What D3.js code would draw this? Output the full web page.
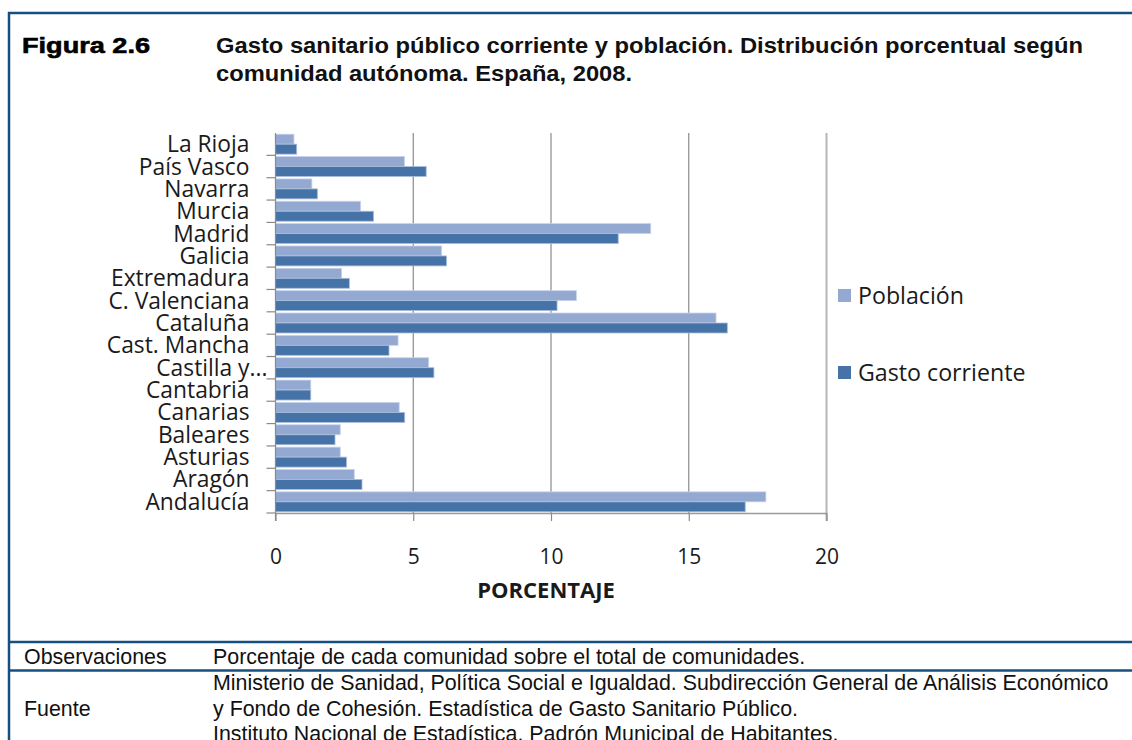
<!DOCTYPE html>
<html>
<head>
<meta charset="utf-8">
<script src="https://cdn.jsdelivr.net/npm/d3@7"></script>
<style>
  html, body { margin: 0; padding: 0; background: #fff; }
  svg { display: block; }
</style>
</head>
<body>
<svg id="fig" width="1132" height="740"></svg>
<script>
// Comunidades autónomas, drawn top to bottom
const comunidades = [
  "La Rioja", "País Vasco", "Navarra", "Murcia", "Madrid", "Galicia",
  "Extremadura", "C. Valenciana", "Cataluña", "Cast. Mancha", "Castilla y...",
  "Cantabria", "Canarias", "Baleares", "Asturias", "Aragón", "Andalucía"
];
// Porcentaje de población de cada comunidad
const poblacion = [
  0.67, 4.68, 1.32, 3.09, 13.62, 6.03,
  2.40, 10.92, 15.99, 4.45, 5.56,
  1.28, 4.49, 2.35, 2.35, 2.86, 17.80
];
// Porcentaje del gasto sanitario público corriente
const gastoCorriente = [
  0.77, 5.47, 1.52, 3.56, 12.44, 6.21,
  2.68, 10.22, 16.40, 4.12, 5.75,
  1.28, 4.69, 2.16, 2.58, 3.14, 17.05
];
const seriesNames = ["Población", "Gasto corriente"];
const xTicks = [0, 5, 10, 15, 20];

const colors = { "Población": "#94a9d2", "Gasto corriente": "#4573a8" };
const borderBlue = "#174f80";
const catFont = "'Open Sans', 'Noto Sans', sans-serif";
const docFont = "'Liberation Sans', Arial, sans-serif";

const svg = d3.select("#fig");

// ---- Frame of the figure sheet ----
const frame = svg.append("g");
frame.append("line").attr("x1", 8).attr("x2", 1132).attr("y1", 13).attr("y2", 13)
  .attr("stroke", borderBlue).attr("stroke-width", 2.5);
frame.append("line").attr("x1", 9).attr("x2", 9).attr("y1", 12).attr("y2", 740)
  .attr("stroke", borderBlue).attr("stroke-width", 2.5);
[642, 670.5].forEach(yy => {
  frame.append("line").attr("x1", 8).attr("x2", 1132).attr("y1", yy).attr("y2", yy)
    .attr("stroke", borderBlue).attr("stroke-width", 2.5);
});

// ---- Heading ----
svg.append("text")
  .attr("x", 22).attr("y", 53)
  .attr("font-family", docFont).attr("font-weight", "bold").attr("font-size", 22)
  .attr("textLength", 128).attr("lengthAdjust", "spacingAndGlyphs")
  .attr("stroke", "#000").attr("stroke-width", 0.6)
  .attr("fill", "#000")
  .text("Figura 2.6");
const headingLines = [
  { text: "Gasto sanitario público corriente y población. Distribución porcentual según", y: 53, w: 867 },
  { text: "comunidad autónoma. España, 2008.", y: 81, w: 416 }
];
svg.selectAll("text.heading").data(headingLines).join("text").attr("class", "heading")
  .attr("x", 216).attr("y", d => d.y)
  .attr("font-family", docFont).attr("font-weight", "bold").attr("font-size", 22)
  .attr("textLength", d => d.w).attr("lengthAdjust", "spacingAndGlyphs")
  .attr("fill", "#111")
  .text(d => d.text);

// ---- Chart ----
const x = d3.scaleLinear().domain([0, 20]).range([275.5, 826.5]);
const y = d3.scaleBand().domain(comunidades).range([133, 513]).padding(0);
const ySub = d3.scaleBand().domain(seriesNames).range([1.2, y.bandwidth() - 1.2]).padding(0);

const rows = comunidades.map((c, i) => ({
  name: c,
  values: [
    { key: "Población", value: poblacion[i] },
    { key: "Gasto corriente", value: gastoCorriente[i] }
  ]
}));

const chart = svg.append("g");
const plotTop = y.range()[0], plotBottom = y.range()[1];

// vertical gridlines
chart.selectAll("line.grid")
  .data(xTicks.filter(t => t > 0 && t < 20))
  .join("line").attr("class", "grid")
  .attr("x1", d => x(d)).attr("x2", d => x(d))
  .attr("y1", plotTop).attr("y2", plotBottom)
  .attr("stroke", "#8a8a8a").attr("stroke-width", 1.2);
// right edge of plot area
chart.append("line")
  .attr("x1", x(20)).attr("x2", x(20)).attr("y1", plotTop).attr("y2", plotBottom + 8)
  .attr("stroke", "#b5b5b5").attr("stroke-width", 2);

// bars
const groups = chart.selectAll("g.row").data(rows).join("g")
  .attr("class", "row")
  .attr("transform", d => `translate(0,${y(d.name)})`);
groups.selectAll("rect").data(d => d.values).join("rect")
  .attr("x", x(0))
  .attr("y", d => ySub(d.key))
  .attr("width", d => x(d.value) - x(0))
  .attr("height", ySub.bandwidth())
  .attr("fill", d => colors[d.key])
  .attr("stroke", d => d.key === "Población" ? "#c8d3e9" : "#a9bedb")
  .attr("stroke-width", 0.8);

// bottom axis
const xAxis = d3.axisBottom(x).tickValues(xTicks).tickFormat(d3.format("d"))
  .tickSize(8).tickSizeOuter(0);
const gx = chart.append("g").attr("transform", `translate(0,${plotBottom})`).call(xAxis);
gx.select(".domain").attr("stroke", "#9a9a9a").attr("stroke-width", 1.5);
gx.selectAll(".tick line").attr("stroke", "#8a8a8a").attr("stroke-width", 1.2);
gx.selectAll(".tick text")
  .attr("y", 44).attr("dy", "0.35em")
  .attr("font-family", catFont).attr("font-size", 21).attr("fill", "#1a1a1a");

// left axis line and category separators
chart.append("line")
  .attr("x1", x(0)).attr("x2", x(0)).attr("y1", plotTop).attr("y2", plotBottom + 8)
  .attr("stroke", "#8a8a8a").attr("stroke-width", 1.2);
const boundaries = comunidades.map(c => y(c) + y.bandwidth());
chart.selectAll("line.sep").data(boundaries).join("line").attr("class", "sep")
  .attr("x1", x(0) - 9).attr("x2", x(0))
  .attr("y1", d => d).attr("y2", d => d)
  .attr("stroke", "#8a8a8a").attr("stroke-width", 1.2);

// category labels
chart.selectAll("text.cat").data(comunidades).join("text").attr("class", "cat")
  .attr("x", d => d.endsWith("...") ? x(0) - 8 : x(0) - 26)
  .attr("y", d => y(d) + y.bandwidth() / 2)
  .attr("dy", "0.35em")
  .attr("text-anchor", "end")
  .attr("font-family", catFont).attr("font-size", 22.8).attr("fill", "#1a1a1a")
  .text(d => d);

// axis title
chart.append("text")
  .attr("x", 546).attr("y", 590).attr("dy", "0.35em")
  .attr("text-anchor", "middle")
  .attr("font-family", catFont).attr("font-weight", "bold").attr("font-size", 22)
  .attr("fill", "#1a1a1a")
  .text("PORCENTAJE");

// legend
const legend = chart.append("g");
const legendRows = [
  { key: "Población", y: 296 },
  { key: "Gasto corriente", y: 373 }
];
legend.selectAll("rect").data(legendRows).join("rect")
  .attr("x", 838).attr("y", d => d.y - 7)
  .attr("width", 13).attr("height", 13)
  .attr("fill", d => colors[d.key]);
legend.selectAll("text").data(legendRows).join("text")
  .attr("x", 858).attr("y", d => d.y).attr("dy", "0.35em")
  .attr("font-family", catFont).attr("font-size", 23.2).attr("fill", "#1a1a1a")
  .text(d => d.key);

// ---- Notes table ----
const notes = svg.append("g")
  .attr("font-family", docFont).attr("font-size", 21.4).attr("fill", "#111");
notes.append("text").attr("x", 24).attr("y", 664).text("Observaciones");
notes.append("text").attr("x", 213).attr("y", 664)
  .text("Porcentaje de cada comunidad sobre el total de comunidades.");
notes.append("text").attr("x", 24).attr("y", 716).text("Fuente");
const fuente = [
  "Ministerio de Sanidad, Política Social e Igualdad. Subdirección General de Análisis Económico",
  "y Fondo de Cohesión. Estadística de Gasto Sanitario Público.",
  "Instituto Nacional de Estadística. Padrón Municipal de Habitantes."
];
notes.selectAll("text.src").data(fuente).join("text").attr("class", "src")
  .attr("x", 213).attr("y", (d, i) => 690 + i * 25.5)
  .text(d => d);
</script>
</body>
</html>
